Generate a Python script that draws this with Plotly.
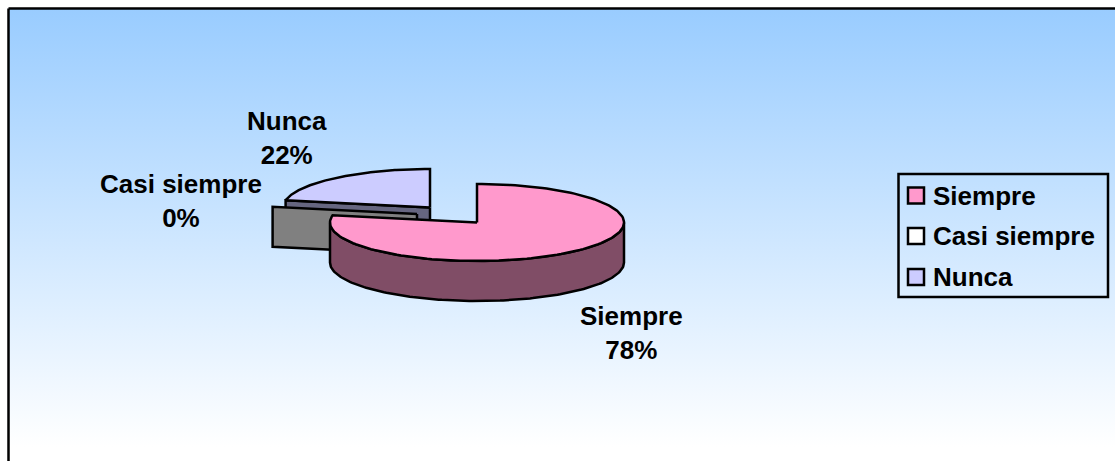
"""Grafico de torta 3D: Siempre / Casi siempre / Nunca."""

import numpy as np
import plotly.graph_objects as go

categories = ["Siempre", "Casi siempre", "Nunca"]
values = [78, 0, 22]

FONT = "Liberation Sans, Arial, sans-serif"
RX, RY, DEPTH = 147, 38.5, 40

top_colors = {"Siempre": "#FF99CC", "Casi siempre": "#FFFFFF", "Nunca": "#CCCCFF"}
side_colors = {"Siempre": "#804D66", "Casi siempre": "#808080", "Nunca": "#666680"}
# centro de cada porcion (van separadas)
centers = {"Siempre": (477, 222.5), "Casi siempre": (417, 214), "Nunca": (430, 207.5)}


def rim(center, frac):
    """Punto(s) del borde de la elipse, frac = parte de la vuelta desde las 12."""
    a = 2 * np.pi * np.asarray(frac, dtype=float)
    return center[0] + RX * np.sin(a), center[1] - RY * np.cos(a)


def poly(x, y, color, name):
    return go.Scatter(
        x=list(x) + [x[0]],
        y=list(y) + [y[0]],
        mode="lines",
        fill="toself",
        fillcolor=color,
        line=dict(color="black", width=2.5),
        name=name,
        hoverinfo="name",
        showlegend=False,
    )


def top_face(name, start, end):
    c = centers[name]
    xs, ys = rim(c, np.linspace(start, end, 150))
    return poly([c[0], *xs], [c[1], *ys], top_colors[name], name)


def cut_face(name, frac):
    # cara plana del corte, desde el centro al borde
    c = centers[name]
    rx, ry = rim(c, frac)
    return poly(
        [c[0], rx, rx, c[0]],
        [c[1], ry, ry + DEPTH, c[1] + DEPTH],
        side_colors[name],
        name,
    )


def outer_wall(name, start, end):
    xs, ys = rim(centers[name], np.linspace(start, end, 150))
    return poly(
        [*xs, *xs[::-1]],
        [*ys, *(ys[::-1] + DEPTH)],
        side_colors[name],
        name,
    )


fracs = np.cumsum([0] + values) / sum(values)

fig = go.Figure()

# fondo degradado
fig.add_trace(
    go.Scatter(
        x=[8.5, 1125, 1125, 8.5, 8.5],
        y=[8.5, 8.5, 470, 470, 8.5],
        mode="lines",
        fill="toself",
        fillgradient=dict(
            type="vertical",
            colorscale=[[0, "#FFFFFF"], [0.05, "#FFFFFF"], [1, "#99CCFF"]],
        ),
        line=dict(color="black", width=2.5),
        hoverinfo="skip",
        showlegend=False,
    )
)

fig.add_trace(cut_face("Nunca", fracs[2]))
fig.add_trace(top_face("Nunca", fracs[2], fracs[3]))
fig.add_trace(cut_face("Casi siempre", fracs[2]))
fig.add_trace(outer_wall("Siempre", 0.25, 0.75))
fig.add_trace(top_face("Siempre", fracs[0], fracs[1]))

# etiquetas
label_pos = {"Siempre": (631, 333), "Casi siempre": (181, 201), "Nunca": (287, 138)}
for cat, val in zip(categories, values):
    fig.add_annotation(
        x=label_pos[cat][0],
        y=label_pos[cat][1],
        text=f"<b>{cat}<br>{val}%</b>",
        showarrow=False,
        font=dict(family=FONT, size=26, color="black"),
    )

# leyenda
fig.add_shape(
    type="rect", x0=898.5, y0=174, x1=1108, y1=297,
    line=dict(color="black", width=2.5), layer="above",
)
legend_y = [195.5, 236, 277]
fig.add_trace(
    go.Scatter(
        x=[916] * 3,
        y=legend_y,
        mode="markers",
        marker=dict(
            symbol="square",
            size=16,
            color=[top_colors[c] for c in categories],
            line=dict(color="black", width=2.5),
        ),
        hoverinfo="skip",
        showlegend=False,
    )
)
for cat, ly in zip(categories, legend_y):
    fig.add_annotation(
        x=931, y=ly, text=f"<b>{cat}</b>", xanchor="left", showarrow=False,
        font=dict(family=FONT, size=26, color="black"),
    )

fig.update_layout(
    width=1115,
    height=461,
    margin=dict(l=0, r=0, t=0, b=0),
    paper_bgcolor="white",
    plot_bgcolor="white",
    showlegend=False,
)
fig.update_xaxes(range=[0, 1115], visible=False)
fig.update_yaxes(range=[461, 0], visible=False)

# la pagina trae 8px de margen en el body
fig.write_html(
    "out.html",
    config={"displayModeBar": False},
    post_script="document.body.style.margin = '0';",
)
